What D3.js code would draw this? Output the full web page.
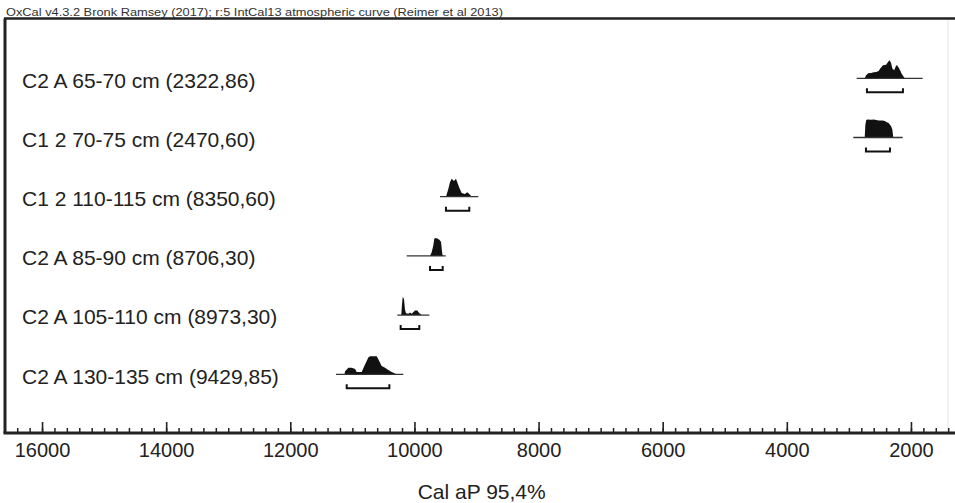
<!DOCTYPE html>
<html>
<head>
<meta charset="utf-8">
<script src="https://cdn.jsdelivr.net/npm/d3@7"></script>
<style>
  html, body { margin: 0; padding: 0; background: #fff; }
  svg { display: block; font-family: "Liberation Sans", Arial, sans-serif; }
</style>
</head>
<body>
<svg id="chart" width="955" height="503"></svg>
<script>
// ---- data ----
const headerText = "OxCal v4.3.2 Bronk Ramsey (2017); r:5 IntCal13 atmospheric curve (Reimer et al 2013)";
const axisTitle = "Cal aP 95,4%";
const sampleLabels = [
  "C2 A 65-70 cm (2322,86)",
  "C1 2 70-75 cm (2470,60)",
  "C1 2 110-115 cm (8350,60)",
  "C2 A 85-90 cm (8706,30)",
  "C2 A 105-110 cm (8973,30)",
  "C2 A 130-135 cm (9429,85)"
];
// extent of the thin baseline under each distribution (cal BP)
const baselineRanges = [[2875, 1812], [2929, 2134], [9588, 8971], [10125, 9496], [10276, 9760], [11264, 10179]];
// 95.4% ranges (brackets)
const rangeBrackets = [[2709, 2129], [2725, 2338], [9492, 9116], [9749, 9545], [10222, 9921], [11091, 10404]];
// probability distributions [cal BP, relative probability]
const distC2A65 = [[2745,0],[2725,0.15],[2690,0.28],[2640,0.3],[2600,0.33],[2560,0.35],[2520,0.4],[2495,0.55],[2450,0.72],[2400,0.75],[2370,0.9],[2345,1.0],[2320,0.85],[2300,0.55],[2270,0.45],[2240,0.7],[2225,0.72],[2200,0.6],[2175,0.45],[2150,0.25],[2120,0.1],[2100,0]];
const distC12_70 = [[2745,0],[2735,0.7],[2720,0.97],[2700,1.0],[2640,0.98],[2600,1.0],[2560,0.97],[2520,0.94],[2460,0.94],[2420,0.92],[2390,0.85],[2360,0.8],[2320,0.62],[2300,0.45],[2285,0]];
const distC12_110 = [[9492,0],[9454,0.43],[9427,0.8],[9400,1.0],[9363,0.87],[9331,1.0],[9310,0.8],[9277,0.5],[9239,0.2],[9186,0.15],[9149,0.25],[9116,0.15],[9077,0]];
const distC2A85 = [[9749,0],[9722,0.2],[9696,0.58],[9680,0.95],[9657,1.0],[9632,0.97],[9599,0.9],[9572,0.78],[9551,0.1],[9539,0]];
const distC2A105 = [[10212,0],[10200,0.6],[10189,1.0],[10168,0.9],[10152,0.3],[10136,0.1],[10098,0.08],[10071,0.15],[10044,0.08],[9991,0.25],[9954,0.25],[9921,0.1],[9883,0]];
const distC2A130 = [[11125,0],[11119,0.15],[11065,0.37],[11011,0.37],[10957,0.3],[10930,0.13],[10850,0.13],[10796,0.55],[10743,0.93],[10716,1.0],[10608,1.0],[10582,0.83],[10528,0.46],[10474,0.37],[10421,0.24],[10367,0.13],[10313,0.05],[10290,0]];
const distributions = [distC2A65, distC12_70, distC12_110, distC2A85, distC2A105, distC2A130];
const majorTicks = [16000, 14000, 12000, 10000, 8000, 6000, 4000, 2000];
const minorTicks = d3.range(16400, 1300, -200);

// ---- drawing ----
const svg = d3.select("#chart");
const W = 955, H = 503;
const axisY = 433, frameTop = 18.5, frameLeft = 5;

const x = d3.scaleLinear().domain([16600, 1300]).range([4.8, 954.4]);
const y = d3.scalePoint().domain(sampleLabels).range([78.3, 374.3]);
const h = d3.scaleLinear().domain([0, 1]).range([0, 18]);

// header
svg.append("text")
  .attr("x", 6).attr("y", 15.5)
  .attr("font-size", 11.5)
  .attr("fill", "#333")
  .attr("textLength", 497).attr("lengthAdjust", "spacingAndGlyphs")
  .text(headerText);

// frame
svg.append("line").attr("x1", frameLeft - 1).attr("x2", W).attr("y1", frameTop).attr("y2", frameTop)
  .attr("stroke", "#222").attr("stroke-width", 2.5);
svg.append("line").attr("x1", frameLeft).attr("x2", frameLeft).attr("y1", frameTop).attr("y2", axisY)
  .attr("stroke", "#222").attr("stroke-width", 3);
svg.append("line").attr("x1", 948).attr("x2", 948).attr("y1", frameTop + 2).attr("y2", axisY - 2)
  .attr("stroke", "#e4e4e4").attr("stroke-width", 1);

// rows
const rows = svg.append("g");
const area = d3.area()
  .x(d => x(d[0]))
  .y1(d => -h(d[1]))
  .y0(0);

sampleLabels.forEach((lab, i) => {
  const g = rows.append("g").attr("transform", `translate(0,${y(lab)})`);
  g.append("text")
    .attr("x", 22).attr("y", 2).attr("dy", "0.35em")
    .attr("font-size", 21).attr("fill", "#222")
    .text(lab);
  g.append("path")
    .attr("d", area(distributions[i]))
    .attr("fill", "#111");
  g.append("line")
    .attr("x1", x(baselineRanges[i][0])).attr("x2", x(baselineRanges[i][1]))
    .attr("y1", 0).attr("y2", 0)
    .attr("stroke", "#333").attr("stroke-width", 1.3);
  const bx1 = x(rangeBrackets[i][0]), bx2 = x(rangeBrackets[i][1]);
  g.append("path")
    .attr("d", `M${bx1},10 V14 H${bx2} V10`)
    .attr("fill", "none").attr("stroke", "#111").attr("stroke-width", 2);
});

// axis
const minorAxis = d3.axisBottom(x).tickValues(minorTicks).tickSize(-5).tickFormat("");
const gMinor = svg.append("g").attr("transform", `translate(0,${axisY})`).call(minorAxis);
gMinor.select(".domain").remove();
gMinor.selectAll(".tick line").attr("stroke", "#222").attr("stroke-width", 1.5);

const majorAxis = d3.axisBottom(x).tickValues(majorTicks).tickSize(-11).tickPadding(10).tickFormat(d3.format("d"));
const gMajor = svg.append("g").attr("transform", `translate(0,${axisY})`).call(majorAxis);
gMajor.select(".domain").attr("stroke", "#222").attr("stroke-width", 3)
  .attr("d", `M${frameLeft - 1.5},0H${W}`);
gMajor.selectAll(".tick line").attr("stroke", "#222").attr("stroke-width", 1.6);
gMajor.selectAll(".tick text")
  .attr("font-size", 20).attr("fill", "#222")
  .attr("font-family", "'Liberation Sans', Arial, sans-serif");

// axis title
svg.append("text")
  .attr("x", 481.7).attr("y", 492).attr("dy", "0.35em")
  .attr("text-anchor", "middle")
  .attr("font-size", 21).attr("fill", "#222")
  .text(axisTitle);
</script>
</body>
</html>
